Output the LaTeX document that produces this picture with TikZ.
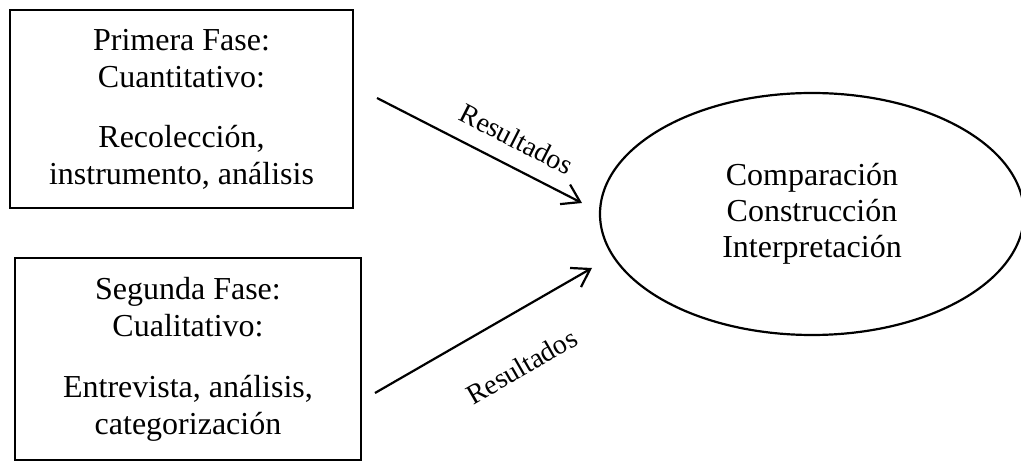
\documentclass[tikz,border=0pt]{standalone}
\usepackage{fontspec}
\setmainfont{Liberation Serif}
\usetikzlibrary{arrows.meta,shapes.geometric}
\begin{document}
\begin{tikzpicture}[x=1pt,y=-1pt,
  phasebox/.style={draw,line width=2.4pt,rectangle,align=center,inner sep=0pt,
    font=\fontsize{32}{37}\selectfont},
  resultbox/.style={draw,line width=2.2pt,ellipse,inner sep=0pt,align=center,
    font=\fontsize{32}{36}\selectfont},
  conn/.style={line width=2.2pt,-{Straight Barb[length=17pt,width=22pt,line width=2.2pt]}},
  lbl/.style={font=\fontsize{28}{30}\selectfont,inner sep=0pt}]
\useasboundingbox (0,0) rectangle (1021,462);
\node[phasebox,minimum width=343pt,minimum height=198pt] (f1) at (181.5,109)
  {Primera Fase:\\Cuantitativo:\\[23pt]Recolección,\\instrumento, análisis};
\node[phasebox,minimum width=346pt,minimum height=202pt] (f2) at (188,359)
  {Segunda Fase:\\Cualitativo:\\[24pt]Entrevista, análisis,\\categorización};
\node[resultbox,minimum width=424pt,minimum height=242pt] (res) at (812,214)
  {Comparación\\Construcción\\Interpretación};
\coordinate (a1s) at (377,98);
\coordinate (a1e) at (582,203);
\coordinate (a2s) at (375,393);
\coordinate (a2e) at (592,268);
\draw[conn] (a1s) -- (a1e);
\draw[conn] (a2s) -- (a2e);
\node[lbl,rotate=-27] (l1) at (516.5,139) {Resultados};
\node[lbl,rotate=30] (l2) at (521.5,366.5) {Resultados};
\end{tikzpicture}
\end{document}
